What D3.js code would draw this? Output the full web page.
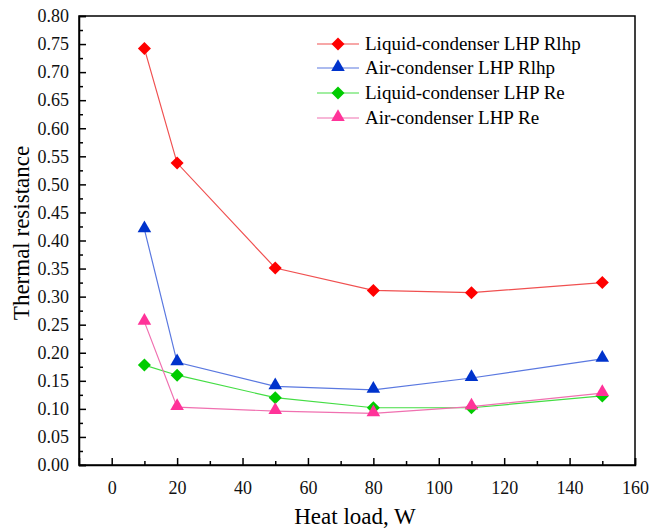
<!DOCTYPE html>
<html>
<head>
<meta charset="utf-8">
<script src="https://d3js.org/d3.v7.min.js"></script>
<style>
  body { margin: 0; background: #fff; }
</style>
</head>
<body>
<div id="chart"></div>
<script>
// chart data
var heatLoads = [10, 20, 50, 80, 110, 150];
var liquidRlhp = [0.742, 0.538, 0.351, 0.311, 0.307, 0.325];
var airRlhp = [0.420, 0.183, 0.140, 0.134, 0.155, 0.189];
var liquidRe = [0.178, 0.160, 0.120, 0.102, 0.102, 0.123];
var airRe = [0.255, 0.103, 0.096, 0.092, 0.104, 0.128];
var seriesNames = ["Liquid-condenser LHP Rlhp", "Air-condenser LHP Rlhp", "Liquid-condenser LHP Re", "Air-condenser LHP Re"];
var xTicks = [0, 20, 40, 60, 80, 100, 120, 140, 160];
var yTicks = [0, 0.05, 0.10, 0.15, 0.20, 0.25, 0.30, 0.35, 0.40, 0.45, 0.50, 0.55, 0.60, 0.65, 0.70, 0.75, 0.80];

var width = 649, height = 532;
var margin = {left: 79, top: 16, right: 14, bottom: 67};
var serif = "Liberation Serif, Tinos, serif";

var series = [
  {name: seriesNames[0], values: liquidRlhp, shape: "diamond", fill: "#ff0000", line: "#f05050"},
  {name: seriesNames[1], values: airRlhp, shape: "triangle", fill: "#0033cc", line: "#5a78e0"},
  {name: seriesNames[2], values: liquidRe, shape: "diamond", fill: "#00cc00", line: "#44dd44"},
  {name: seriesNames[3], values: airRe, shape: "triangle", fill: "#ff3399", line: "#f070b0"}
];

var svg = d3.select("#chart").append("svg")
  .attr("width", width)
  .attr("height", height)
  .style("font-family", serif);

var x = d3.scaleLinear().domain([-10, 160]).range([margin.left, width - margin.right]);
var y = d3.scaleLinear().domain([0, 0.8]).range([height - margin.bottom, margin.top]);

// frame
svg.append("rect")
  .attr("x", x(-10)).attr("y", y(0.8))
  .attr("width", x(160) - x(-10)).attr("height", y(0) - y(0.8))
  .attr("fill", "none").attr("stroke", "#000").attr("stroke-width", 1.5);

// x axis, ticks pointing in
svg.append("g")
  .attr("transform", "translate(0," + y(0) + ")")
  .call(d3.axisBottom(x).tickValues(xTicks).tickSize(-7).tickPadding(16).tickFormat(d3.format("d")));
svg.append("g")
  .attr("transform", "translate(0," + y(0) + ")")
  .call(d3.axisBottom(x).tickValues(d3.range(10, 160, 20)).tickSize(-4).tickFormat(""))
  .select(".domain").remove();

// y axis
svg.append("g")
  .attr("transform", "translate(" + x(-10) + ",0)")
  .call(d3.axisLeft(y).tickValues(yTicks).tickSize(-7).tickPadding(10).tickFormat(d3.format(".2f")));
svg.append("g")
  .attr("transform", "translate(" + x(-10) + ",0)")
  .call(d3.axisLeft(y).tickValues(d3.range(0.025, 0.8, 0.05)).tickSize(-4).tickFormat(""))
  .select(".domain").remove();

svg.selectAll("g").attr("font-family", serif);
svg.selectAll(".domain").attr("stroke-width", 1.5);
svg.selectAll(".tick line").attr("stroke-width", 1.5);
svg.selectAll(".tick text")
  .style("font-family", serif)
  .style("font-size", "18px")
  .attr("fill", "#111");

// axis titles
svg.append("text")
  .attr("x", 355).attr("y", 524)
  .attr("text-anchor", "middle")
  .style("font-family", serif)
  .style("font-size", "23px")
  .text("Heat load, W");

svg.append("text")
  .attr("transform", "translate(29,233) rotate(-90)")
  .attr("text-anchor", "middle")
  .style("font-family", serif)
  .style("font-size", "23px")
  .text("Thermal resistance");

var diamond = d3.symbol().type(d3.symbolSquare).size(85);
var triangle = d3.symbol().type(d3.symbolTriangle).size(80);

function drawMarker(g, shape, fill, px, py) {
  if (shape === "diamond") {
    g.append("path")
      .attr("d", diamond())
      .attr("transform", "translate(" + px + "," + py + ") rotate(45)")
      .attr("fill", fill);
  } else {
    g.append("path")
      .attr("d", triangle())
      .attr("transform", "translate(" + px + "," + (py - 1) + ")")
      .attr("fill", fill);
  }
}

var line = d3.line()
  .x(function(d) { return x(d[0]); })
  .y(function(d) { return y(d[1]); });

series.forEach(function(s) {
  var pts = heatLoads.map(function(h, i) { return [h, s.values[i]]; });
  var g = svg.append("g");
  g.append("path")
    .datum(pts)
    .attr("d", line)
    .attr("fill", "none")
    .attr("stroke", s.line)
    .attr("stroke-width", 1.2);
  pts.forEach(function(p) {
    drawMarker(g, s.shape, s.fill, x(p[0]), y(p[1]));
  });
});

// legend
var legend = svg.append("g");
var legendRows = [44, 68, 93, 118];
series.forEach(function(s, i) {
  var ly = legendRows[i];
  legend.append("line")
    .attr("x1", 317).attr("x2", 359)
    .attr("y1", ly).attr("y2", ly)
    .attr("stroke", s.line).attr("stroke-width", 1.2);
  drawMarker(legend, s.shape, s.fill, 338, ly);
  legend.append("text")
    .attr("x", 365).attr("y", ly + 6)
    .style("font-family", serif)
    .style("font-size", "19px")
    .text(s.name);
});
</script>
</body>
</html>
